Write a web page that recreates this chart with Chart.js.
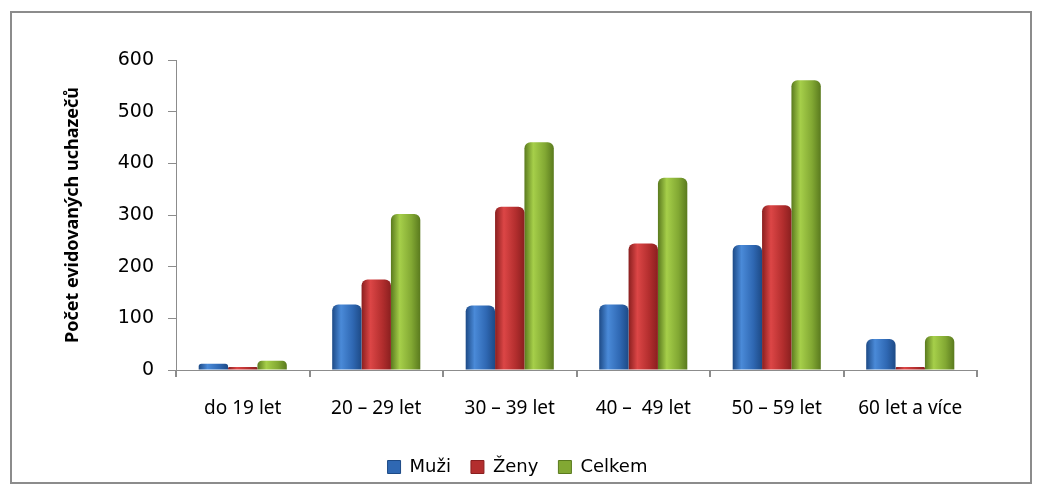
<!DOCTYPE html>
<html>
<head>
<meta charset="utf-8">
<script src="https://cdn.jsdelivr.net/npm/chart.js@4.4.1/dist/chart.umd.min.js"></script>
<style>
  body { margin: 0; background: #fff; }
  #frame { position: absolute; left: 10px; top: 11px; width: 1018px; height: 469px; border: 2px solid #8c8c8c; }
  #wrap { position: absolute; left: 0; top: 0; width: 1040px; height: 492px; }
</style>
</head>
<body>
<div id="frame"></div>
<div id="wrap"><canvas id="chart" width="1040" height="492"></canvas></div>
<script>
// age groups and job seekers by sex
const categories = ['do 19 let', '20 – 29 let', '30 – 39 let', '40 –  49 let', '50 – 59 let', '60 let a více'];
const muzi = [12, 127, 125, 127, 242, 60];
const zeny = [6, 175, 316, 245, 319, 6];
const celkem = [18, 302, 441, 372, 561, 66];
const yTicks = [0, 100, 200, 300, 400, 500, 600];

// [dark edge, highlight, mid]
const shades = [
  ['#1d4a86', '#4a8ad8', '#2f68b3'],
  ['#8a1f1f', '#dc4646', '#b32e2e'],
  ['#5a7a1e', '#a6cf4a', '#82a833']
];
const catPct = 0.66;

function cylinder(ctx) {
  const chart = ctx.chart;
  const sx = chart.scales.x;
  const s = shades[ctx.datasetIndex];
  if (!sx || sx.width == null) return s[2];
  const barW = (sx.width / categories.length) * catPct / 3;
  const cx = sx.getPixelForValue(ctx.dataIndex) + (ctx.datasetIndex - 1) * barW;
  const g = chart.ctx.createLinearGradient(cx - barW / 2, 0, cx + barW / 2, 0);
  g.addColorStop(0, s[0]);
  g.addColorStop(0.3, s[1]);
  g.addColorStop(0.7, s[2]);
  g.addColorStop(1, s[0]);
  return g;
}

new Chart(document.getElementById('chart'), {
  type: 'bar',
  data: {
    labels: categories,
    datasets: [
      { label: 'Muži', data: muzi },
      { label: 'Ženy', data: zeny },
      { label: 'Celkem', data: celkem }
    ].map((d, i) => ({
      ...d,
      backgroundColor: cylinder,
      borderRadius: { topLeft: 6, topRight: 6 },
      borderSkipped: 'bottom',
      categoryPercentage: catPct,
      barPercentage: 1.0
    }))
  },
  options: {
    responsive: false,
    animation: false,
    layout: { padding: { left: 58, right: 63, top: 60, bottom: 6 } },
    plugins: {
      tooltip: { enabled: false },
      legend: {
        position: 'bottom',
        labels: {
          color: '#000',
          font: { family: 'DejaVu Sans', size: 18 },
          boxWidth: 13,
          boxHeight: 13,
          padding: 20,
          generateLabels: chart => chart.data.datasets.map((d, i) => ({
            text: d.label,
            fillStyle: shades[i][2],
            strokeStyle: shades[i][0],
            lineWidth: 1,
            datasetIndex: i
          }))
        }
      }
    },
    scales: {
      x: {
        grid: { offset: true, drawOnChartArea: false, color: '#8c8c8c', tickLength: 7, lineWidth: 2 },
        border: { color: '#8c8c8c', width: 1 },
        ticks: { color: '#000', font: { family: 'Noto Sans', size: 19 }, padding: 20, maxRotation: 0 },
        afterFit: s => { s.height = 68; }
      },
      y: {
        min: 0,
        max: 600,
        afterBuildTicks: s => { s.ticks = yTicks.map(v => ({ value: v })); },
        grid: { drawOnChartArea: false, color: '#8c8c8c', tickLength: 8 },
        border: { color: '#8c8c8c', width: 1 },
        ticks: { color: '#000', font: { family: 'DejaVu Sans', size: 19 }, padding: 14 },
        title: {
          display: true,
          text: 'Počet evidovaných uchazečů',
          color: '#000',
          font: { family: 'Noto Sans', size: 18, weight: 'bold' },
          padding: { top: 4, bottom: 4 }
        },
        afterFit: s => { s.width = 118; }
      }
    }
  }
});
</script>
</body>
</html>
